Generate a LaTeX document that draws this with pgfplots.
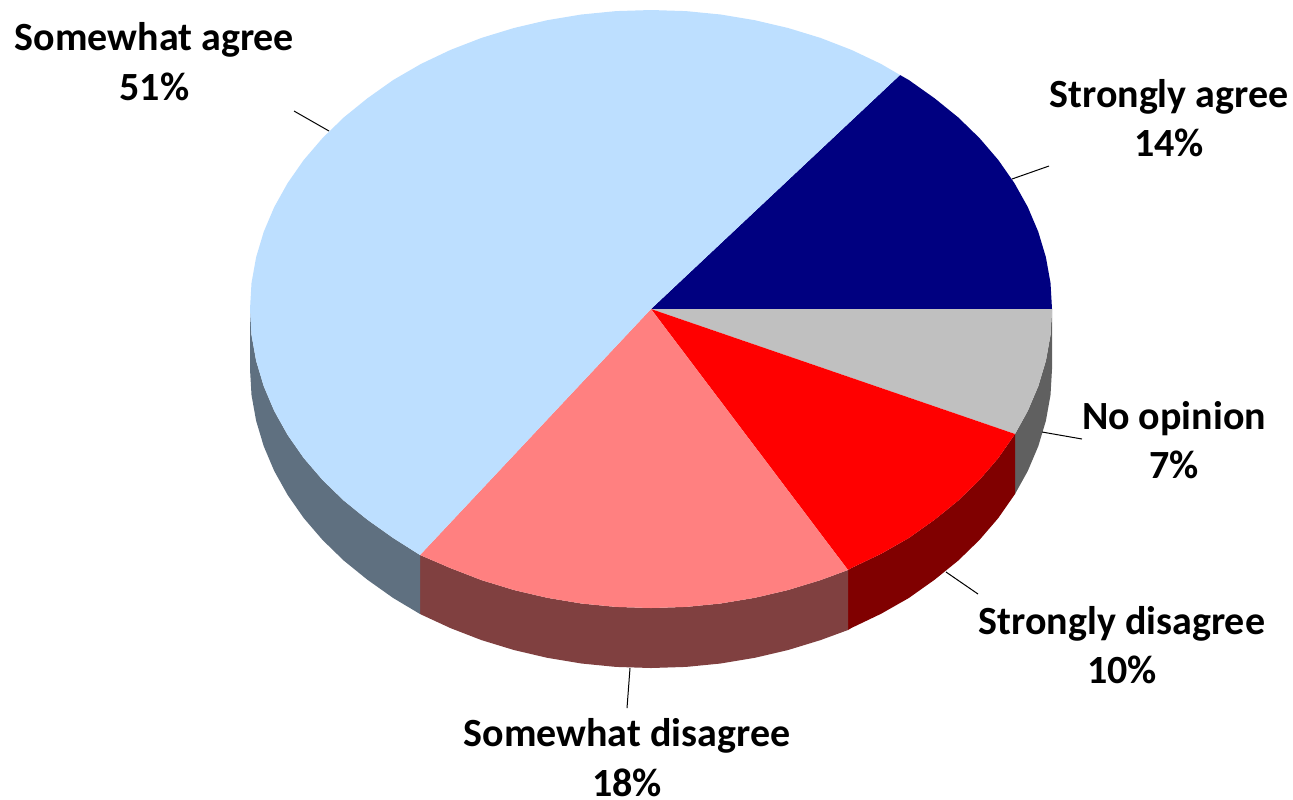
\documentclass[border=0pt]{standalone}
\usepackage{fontspec}
\setmainfont{Carlito}
\usepackage{pgfplots}
\pgfplotsset{compat=1.18}
\definecolor{sagree}{HTML}{000080}
\definecolor{nopin}{HTML}{C0C0C0}
\definecolor{sdis}{HTML}{FF0000}
\definecolor{mdis}{HTML}{FF8080}
\definecolor{magree}{HTML}{BDDFFF}
\definecolor{nopinside}{HTML}{606060}
\definecolor{sdisside}{HTML}{800000}
\definecolor{mdisside}{HTML}{804040}
\definecolor{magreeside}{HTML}{5F7080}
\tikzset{lbl/.style={font=\fontsize{20}{24.7}\selectfont\bfseries, align=center, black}}
\begin{document}
\begin{tikzpicture}
\begin{axis}[
  width=646.5pt, height=399.5pt, scale only axis,
  xmin=0, xmax=1293, ymin=0, ymax=799,
  y dir=reverse,
  hide axis, clip=false,
]
% side walls
\addplot[draw=none, fill=nopinside] coordinates {(1052,309) (1050.5,335) (1045.9,360.7) (1038.3,386.1) (1027.8,410.9) (1015,434) (1015,494) (1027.8,470.9) (1038.3,446.1) (1045.9,420.7) (1050.5,395) (1052,369)} -- cycle;
\addplot[draw=none, fill=sdisside] coordinates {(1015,434) (998.3,458) (979.5,479.9) (958.2,500.6) (934.6,519.7) (908.8,538) (881,553.8) (851.5,567.9) (848,570) (848,630) (851.5,627.9) (881,613.8) (908.8,598) (934.6,579.7) (958.2,560.6) (979.5,539.9) (998.3,518) (1015,494)} -- cycle;
\addplot[draw=none, fill=mdisside] coordinates {(848,570) (820.5,580.1) (788.1,590) (754.8,597.8) (720.6,603.5) (686,606.9) (651,608) (616,606.9) (581.4,603.5) (547.2,597.8) (513.9,590) (481.5,580.1) (450.5,568.1) (420,555) (420,614) (450.5,628.1) (481.5,640.1) (513.9,650) (547.2,657.8) (581.4,663.5) (616,666.9) (651,668) (686,666.9) (720.6,663.5) (754.8,657.8) (788.1,650) (820.5,640.1) (848,630)} -- cycle;
\addplot[draw=none, fill=magreeside] coordinates {(420,555) (393.2,538) (367.4,519.7) (343.8,500.6) (322.5,479.9) (303.7,458) (287.6,434.9) (274.2,410.9) (263.7,386.1) (256.1,360.7) (251.5,335) (250,309) (250,369) (251.5,395) (256.1,420.7) (263.7,446.1) (274.2,470.9) (287.6,494.9) (303.7,518) (322.5,539.9) (343.8,560.6) (367.4,579.7) (393.2,598) (420,614)} -- cycle;
% top face, 14 / 7 / 10 / 18 / 51 per cent
\addplot[draw=none, fill=sagree] coordinates {(651,309) (1052,309) (1050.5,283) (1045.9,257.3) (1038.3,231.9) (1027.8,207.1) (1014.4,183.1) (998.3,160) (979.5,138.1) (958.2,117.4) (934.6,98.3) (908.8,80) (900,75)} -- cycle;
\addplot[draw=none, fill=nopin] coordinates {(651,309) (1052,309) (1050.5,335) (1045.9,360.7) (1038.3,386.1) (1027.8,410.9) (1015,434)} -- cycle;
\addplot[draw=none, fill=sdis] coordinates {(651,309) (1015,434) (998.3,458) (979.5,479.9) (958.2,500.6) (934.6,519.7) (908.8,538) (881,553.8) (851.5,567.9) (848,570)} -- cycle;
\addplot[draw=none, fill=mdis] coordinates {(651,309) (848,570) (820.5,580.1) (788.1,590) (754.8,597.8) (720.6,603.5) (686,606.9) (651,608) (616,606.9) (581.4,603.5) (547.2,597.8) (513.9,590) (481.5,580.1) (450.5,568.1) (420,555)} -- cycle;
\addplot[draw=none, fill=magree] coordinates {(651,309) (420,555) (393.2,538) (367.4,519.7) (343.8,500.6) (322.5,479.9) (303.7,458) (287.6,434.9) (274.2,410.9) (263.7,386.1) (256.1,360.7) (251.5,335) (250,309) (251.5,283) (256.1,257.3) (263.7,231.9) (274.2,207.1) (287.6,183.1) (303.7,160) (322.5,138.1) (343.8,117.4) (367.4,98.3) (393.2,80) (421,63.9) (450.5,49.9) (481.5,37.9) (513.9,28) (547.2,20.2) (581.4,14.5) (616,11.1) (651,10) (686,11.1) (720.6,14.5) (754.8,20.2) (788.1,28) (820.5,37.9) (851.5,49.9) (881,63.9) (900,75)} -- cycle;
% leader lines
\addplot[black, line width=0.5pt] coordinates {(294,111) (329,131)};
\addplot[black, line width=0.5pt] coordinates {(1012,179) (1049,166)};
\addplot[black, line width=0.5pt] coordinates {(1042,432) (1082,439)};
\addplot[black, line width=0.5pt] coordinates {(946,572) (978,594)};
\addplot[black, line width=0.5pt] coordinates {(630,668) (627,708)};
% labels
\node[lbl] at (axis cs:154.5,61.5) {Somewhat agree\\51\%};
\node[lbl] at (axis cs:1169,118) {Strongly agree\\14\%};
\node[lbl] at (axis cs:1174,440) {No opinion\\7\%};
\node[lbl] at (axis cs:1122,645) {Strongly disagree\\10\%};
\node[lbl] at (axis cs:627,757.5) {Somewhat disagree\\18\%};
\end{axis}
\pgfresetboundingbox
\path[use as bounding box] (0,0) rectangle (646.5pt,399.5pt);
\end{tikzpicture}
\end{document}
